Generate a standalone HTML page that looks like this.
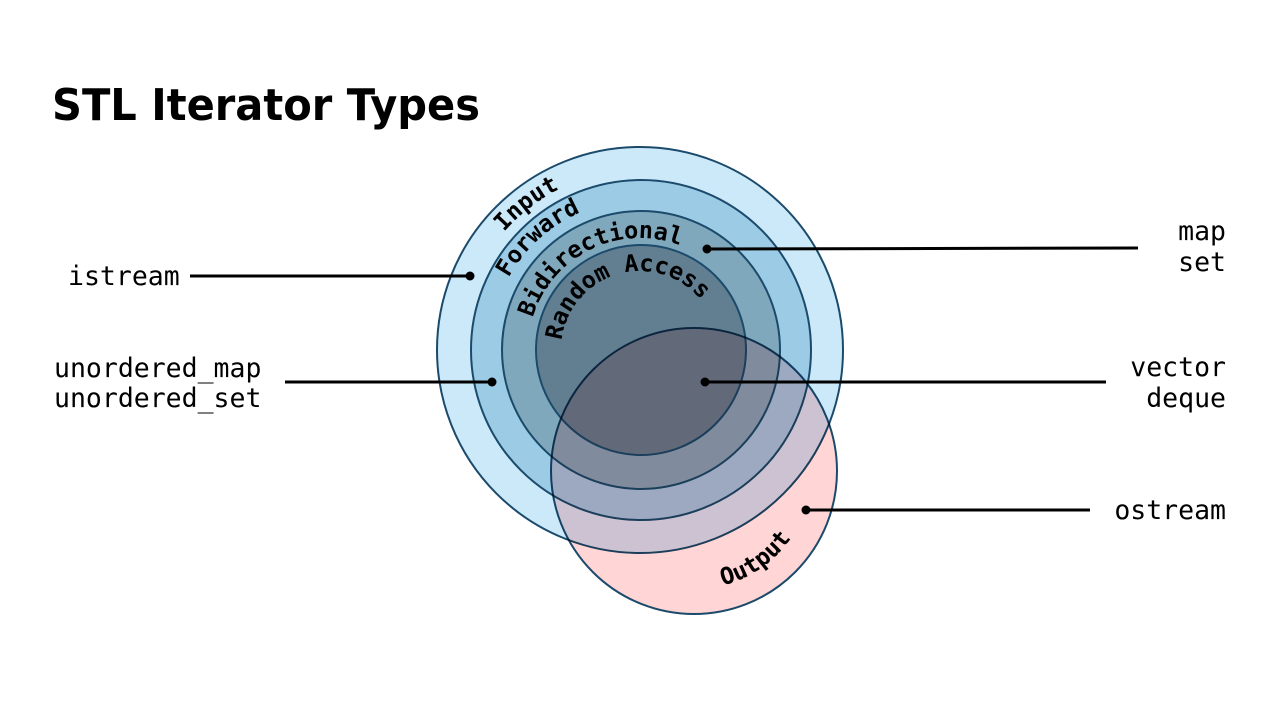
<!DOCTYPE html>
<html><head><meta charset="utf-8"><style>
html,body{margin:0;padding:0;background:#fff;}
svg{display:block;}
.m{font-family:"DejaVu Sans Mono","Liberation Mono",monospace;font-size:26.5px;fill:#000;}
.a{font-family:"DejaVu Sans Mono","Liberation Mono",monospace;font-size:23.5px;font-weight:bold;fill:#000;}
</style></head><body>
<svg width="1280" height="720" viewBox="0 0 1280 720" xmlns="http://www.w3.org/2000/svg">
<defs>
<path id="pI" d="M460,350 A180,180 0 0 1 820,350"/>
<path id="pF" d="M490,350 A150,150 0 0 1 790,350"/>
<path id="pB" d="M528,350 A112,112 0 0 1 752,350"/>
<path id="pR" d="M561,350 A79,79 0 0 1 719,350"/>
<path id="pO" d="M635,573.2 A118,118 0 0 0 812,471"/>
</defs>
<text x="52" y="120" font-family="'DejaVu Sans','Liberation Sans',sans-serif" font-weight="bold" font-size="44" textLength="428" lengthAdjust="spacingAndGlyphs">STL Iterator Types</text>
<g stroke="#1b4a6b" stroke-width="2">
<circle cx="640" cy="350" r="203" fill="#cce9fa"/>
<circle cx="641" cy="350" r="170" fill="#9ccbe6"/>
<circle cx="641" cy="350" r="139" fill="#80a8bc"/>
<circle cx="641" cy="350" r="105" fill="#627f92"/>
<circle cx="694" cy="471" r="143" fill="#ffd5d5" style="mix-blend-mode:multiply"/>
</g>
<text class="a"><textPath href="#pI" startOffset="29%" text-anchor="middle">Input</textPath></text>
<text class="a"><textPath href="#pF" startOffset="26.5%" text-anchor="middle">Forward</textPath></text>
<text class="a"><textPath href="#pB" startOffset="35.5%" text-anchor="middle">Bidirectional</textPath></text>
<text class="a"><textPath href="#pR" startOffset="41%" text-anchor="middle">Random Access</textPath></text>
<text class="a"><textPath href="#pO" startOffset="54%" text-anchor="middle">Output</textPath></text>
<g stroke="#000" stroke-width="3">
<line x1="190" y1="276" x2="470" y2="276"/>
<line x1="285" y1="382" x2="492" y2="382"/>
<line x1="707" y1="249" x2="1138" y2="248"/>
<line x1="705" y1="382" x2="1106" y2="382"/>
<line x1="806" y1="510" x2="1090" y2="510"/>
</g>
<g fill="#000">
<circle cx="470" cy="276" r="4.5"/>
<circle cx="492" cy="382" r="4.5"/>
<circle cx="707" cy="249" r="4.5"/>
<circle cx="705" cy="382" r="4.5"/>
<circle cx="806" cy="510" r="4.5"/>
</g>
<text class="m" x="68" y="285">istream</text>
<text class="m" x="54" y="377">unordered_map</text>
<text class="m" x="54" y="407">unordered_set</text>
<g text-anchor="end">
<text class="m" x="1226" y="240">map</text>
<text class="m" x="1226" y="271">set</text>
<text class="m" x="1226" y="376">vector</text>
<text class="m" x="1226" y="407">deque</text>
<text class="m" x="1226" y="519">ostream</text>
</g>
</svg>
</body></html>
